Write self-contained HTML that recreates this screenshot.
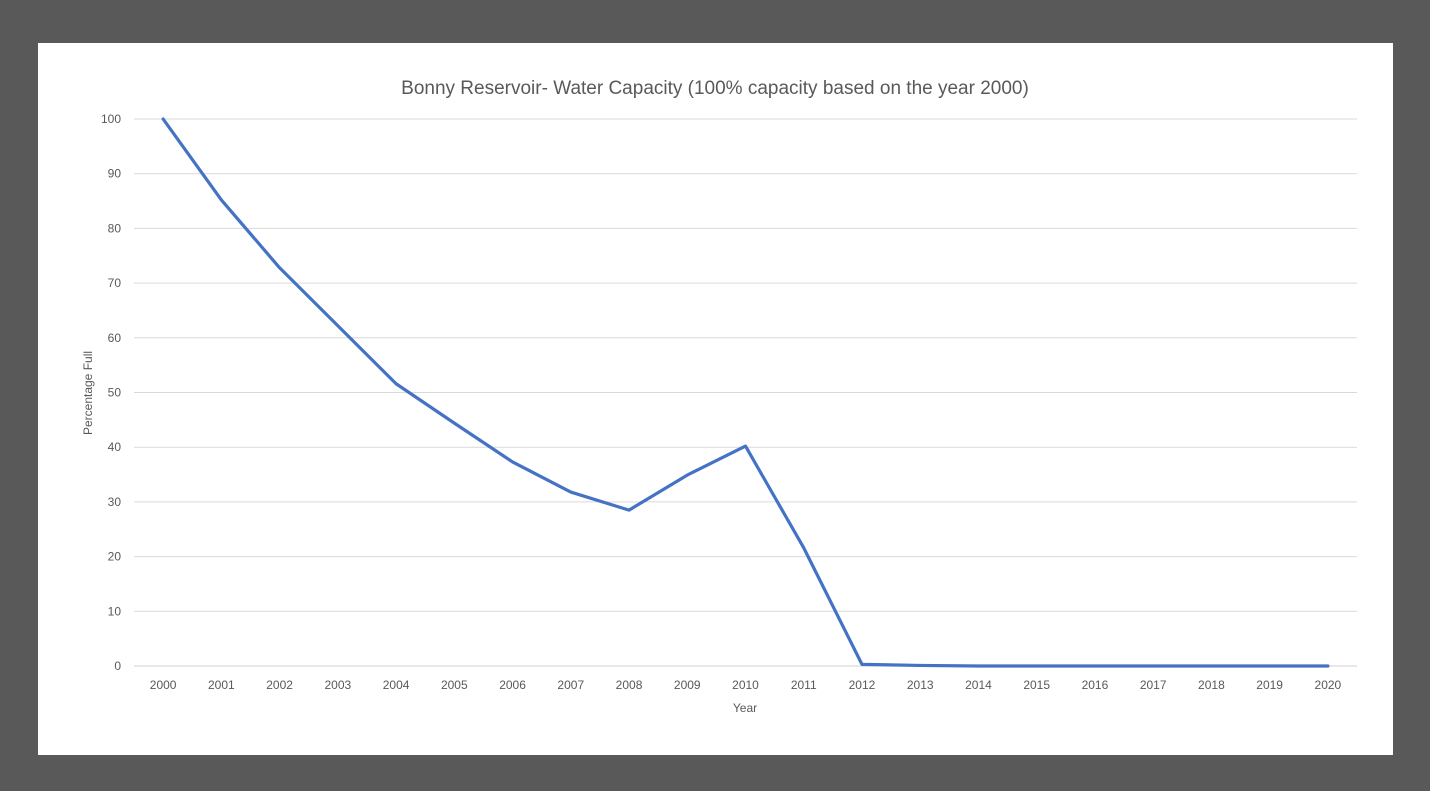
<!DOCTYPE html>
<html><head><meta charset="utf-8"><style>
html,body{margin:0;padding:0;width:1430px;height:791px;background:#595959;overflow:hidden}
svg{display:block;font-family:"Liberation Sans",sans-serif}
</style></head><body>
<svg id="chart" width="1430" height="791">
<rect x="0" y="0" width="1430" height="791" fill="#595959"/>
<rect x="38" y="43" width="1355" height="712" fill="#ffffff"/>
<text x="715" y="94" text-anchor="middle" font-size="19" fill="#595959">Bonny Reservoir- Water Capacity (100% capacity based on the year 2000)</text>
<text transform="translate(92,393) rotate(-90)" text-anchor="middle" font-size="12" fill="#595959">Percentage Full</text>
<text x="745" y="712" text-anchor="middle" font-size="12" fill="#595959">Year</text>
<g id="grid"></g><g id="yticks"></g><g id="xticks"></g><g id="series"></g>
</svg>
<script>
const years = ["2000","2001","2002","2003","2004","2005","2006","2007","2008","2009","2010","2011","2012","2013","2014","2015","2016","2017","2018","2019","2020"];
const percentFull = [100,85.2,72.8,62.2,51.6,44.4,37.3,31.8,28.5,34.9,40.2,21.6,0.3,0.1,0,0,0,0,0,0,0];
const yTicks = [0,10,20,30,40,50,60,70,80,90,100];

const NS="http://www.w3.org/2000/svg";
const plotLeft=134,plotRight=1357,plotTop=119,plotBottom=666;
const step=(plotRight-plotLeft)/years.length;
const xs=i=>plotLeft+step*(i+0.5);
const ys=v=>plotBottom-(v/100)*(plotBottom-plotTop);
function mk(tag,attrs,parent){const e=document.createElementNS(NS,tag);for(const k in attrs)e.setAttribute(k,attrs[k]);parent.appendChild(e);return e;}
const grid=document.getElementById('grid'),yt=document.getElementById('yticks'),xt=document.getElementById('xticks'),ser=document.getElementById('series');
yTicks.forEach(t=>{
  const l=mk('line',{x1:plotLeft,x2:plotRight,y1:ys(t),y2:ys(t),stroke:t===0?'#d0d0d0':'#d9d9d9','stroke-width':1},grid);
  
  
  const tx=mk('text',{x:121,y:ys(t)+4,'text-anchor':'end','font-size':12,fill:'#595959'},yt);
  tx.textContent=t;
  
  
});
years.forEach((y,i)=>{
  const tx=mk('text',{x:xs(i),y:689,'text-anchor':'middle','font-size':12,fill:'#595959'},xt);
  tx.textContent=y;
  
  
});
const p=mk('polyline',{points:percentFull.map((v,i)=>xs(i)+','+ys(v)).join(' '),fill:'none',stroke:'#4472C4','stroke-width':3.2,'stroke-linejoin':'round','stroke-linecap':'round'},ser);


</script>
</body></html>
